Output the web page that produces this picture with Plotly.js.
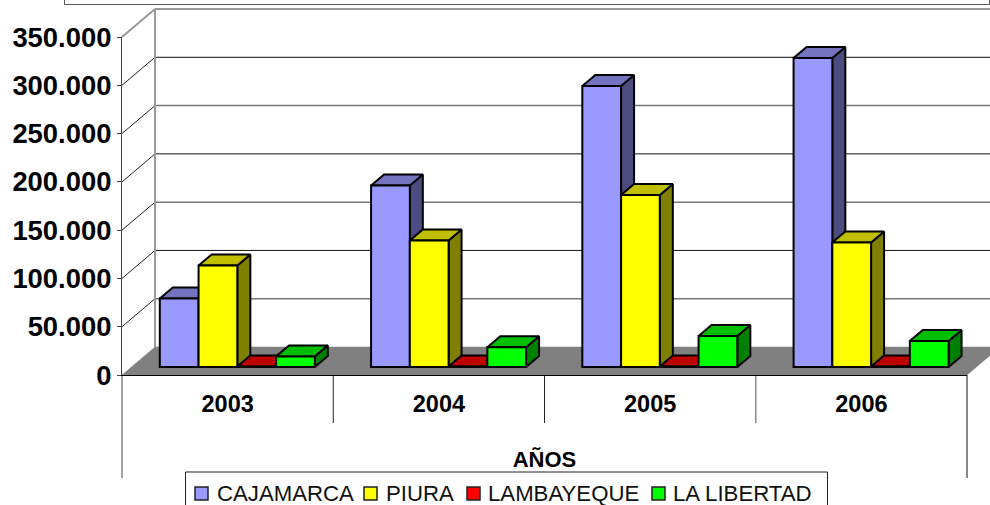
<!DOCTYPE html>
<html>
<head>
<meta charset="utf-8">
<script src="https://cdn.plot.ly/plotly-3.0.1.min.js"></script>
<style>html,body{margin:0;padding:0;background:#fff;overflow:hidden}#chart{width:990px;height:505px}</style>
</head>
<body>
<div id="chart"></div>
<script>
// ---- data ----
const years = ['2003', '2004', '2005', '2006'];
const seriesNames = ['CAJAMARCA', 'PIURA', 'LAMBAYEQUE', 'LA LIBERTAD'];
const cajamarca = [71000, 188000, 291000, 320000];
const piura = [105000, 131000, 178000, 129000];
const lambayeque = [600, 600, 600, 600];
const laLibertad = [11000, 20500, 32000, 27000];
const seriesValues = [cajamarca, piura, lambayeque, laLibertad];
const frontColors = ['#9999FF', '#FFFF00', '#FF0000', '#00FF00'];
const topColors = ['#7373BF', '#BFBF00', '#BF0000', '#00BF00'];
const sideColors = ['#4C4C80', '#808000', '#800000', '#008000'];
const yTicks = [0, 50000, 100000, 150000, 200000, 250000, 300000, 350000];

// ---- canvas and scale: axis frame spans x 122..967, y 37..375 px ----
const W = 990, H = 505, AX_L = 122, AX_R = 967, AX_T = 37, AX_B = 375;
const PX_CAT = (AX_R - AX_L) / years.length, PX_VAL = (AX_B - AX_T) / 350000;
const catUnits = function (p) { return p / PX_CAT; };
const valUnits = function (p) { return p / PX_VAL; };

// ---- pseudo-3D projection (fake depth, in axis units) ----
const WALL_DX = catUnits(33), WALL_DY = valUnits(28);
const BAR_X0 = catUnits(9.7), BAR_Y0 = valUnits(8);
const BAR_DX = catUnits(13), BAR_DY = valUnits(11);
const BAR_W = catUnits(38.75);
const NC = years.length, NS = seriesNames.length;
const SEP_SHORT = -valUnits(48), SEP_LONG = -valUnits(103);

const traces = [];
function lineTrace(xs, ys, color, width) {
  traces.push({type: 'scatter', mode: 'lines', x: xs, y: ys, hoverinfo: 'skip',
    showlegend: false, line: {color: color, width: width}});
}
function polyTrace(xs, ys, fill, outline, width) {
  traces.push({type: 'scatter', mode: 'lines', x: xs, y: ys, hoverinfo: 'skip',
    showlegend: false, fill: 'toself', fillcolor: fill, line: {color: outline, width: width}});
}

// floor
polyTrace([0, WALL_DX, NC + WALL_DX, NC, 0], [0, WALL_DY, WALL_DY, 0, 0], '#808080', '#808080', 0.5);

// back wall: gridlines alternate grey/black as in the reference
yTicks.forEach(function (v, i) {
  if (i === 0) return;
  const isTop = i === yTicks.length - 1;
  lineTrace([0, WALL_DX], [v, v + WALL_DY], isTop ? '#999999' : '#222222', isTop ? 2 : 1);
  lineTrace([WALL_DX, NC + WALL_DX + 1], [v + WALL_DY, v + WALL_DY],
            isTop ? '#999999' : (i % 2 === 1 ? '#777777' : '#111111'),
            isTop ? 2 : (i % 2 === 1 ? 1.5 : 1));
});
// wall corner
lineTrace([WALL_DX, WALL_DX], [WALL_DY, 350000 + WALL_DY], '#999999', 2);
// category separators below the floor
lineTrace([0, 0], [0, SEP_LONG], '#666666', 1.2);
lineTrace([1, 1], [0, SEP_SHORT], '#222222', 1);
lineTrace([2, 2], [0, SEP_SHORT], '#222222', 1);
lineTrace([3, 3], [0, SEP_SHORT], '#888888', 1.5);
lineTrace([4, 4], [0, SEP_LONG], '#111111', 1);

function barLeft(c, s) { return c + 0.5 + BAR_X0 + (s - NS / 2) * BAR_W; }

// side and top faces, painted left to right
seriesValues.forEach(function (vals, s) {
  const sx = [], sy = [], tx = [], ty = [];
  vals.forEach(function (v, c) {
    const l = barLeft(c, s), r = l + BAR_W, b = BAR_Y0, t = BAR_Y0 + v;
    sx.push(r, r + BAR_DX, r + BAR_DX, r, r, null);
    sy.push(b, b + BAR_DY, t + BAR_DY, t, b, null);
    tx.push(l, r, r + BAR_DX, l + BAR_DX, l, null);
    ty.push(t, t, t + BAR_DY, t + BAR_DY, t, null);
  });
  polyTrace(sx, sy, sideColors[s], '#000000', 2);
  polyTrace(tx, ty, topColors[s], '#000000', 2);
});

// front faces: real bars on the visible subplot, which sits above the faces
seriesValues.forEach(function (vals, s) {
  traces.push({
    type: 'bar', name: seriesNames[s], xaxis: 'x2', yaxis: 'y2',
    x: years.map(function (_, c) { return barLeft(c, s); }),
    y: vals,
    base: vals.map(function () { return BAR_Y0; }),
    width: BAR_W, offset: 0, cliponaxis: false,
    marker: {color: frontColors[s], line: {color: '#000000', width: 2}},
    showlegend: false, hoverinfo: 'x+y'
  });
});

// ---- legend, laid out by hand to match the tight spacing of the reference ----
const px = function (x) { return x / W; };
const py = function (y) { return 1 - y / H; };
const legendSwatchX = [195, 364, 467, 652];
const legendTextX = [217, 386, 488, 673];
const shapes = [
  {type: 'rect', xref: 'paper', yref: 'paper', x0: px(64.5), x1: px(989.5), y0: py(4.5), y1: py(-20), line: {color: '#555555', width: 1}},
  {type: 'rect', xref: 'paper', yref: 'paper', x0: px(185.5), x1: px(827.5), y0: py(472), y1: py(530), line: {color: '#222222', width: 1}}
];
const annotations = [];
seriesNames.forEach(function (n, s) {
  shapes.push({type: 'rect', xref: 'paper', yref: 'paper',
    x0: px(legendSwatchX[s]), x1: px(legendSwatchX[s] + 13), y0: py(487), y1: py(500),
    fillcolor: frontColors[s], line: {color: '#222222', width: 1.5}});
  annotations.push({xref: 'paper', yref: 'paper', x: px(legendTextX[s]), y: py(493), xanchor: 'left', yanchor: 'middle',
    text: n, showarrow: false, xshift: -2, font: {family: '"Liberation Sans", Arial, sans-serif', size: 22.2, color: '#111111'}});
});

const boldFont = function (size) { return {family: '"Liberation Sans", Arial, sans-serif', size: size, color: '#000000', weight: 700}; };
const layout = {
  width: W, height: H,
  margin: {l: 0, r: 0, t: 0, b: 0, pad: 0},
  paper_bgcolor: '#ffffff', plot_bgcolor: 'rgba(0,0,0,0)',
  separators: ',.',
  showlegend: false, barmode: 'overlay',
  // full-canvas hidden frame for the wall, floor and depth faces (same scale as the visible axes)
  xaxis: {domain: [0, 1], range: [catUnits(-AX_L), catUnits(W - AX_L)], visible: false, fixedrange: true},
  yaxis: {domain: [0, 1], range: [valUnits(AX_B - H), valUnits(AX_B)], visible: false, fixedrange: true},
  // visible axes
  xaxis2: {
    domain: [AX_L / W, AX_R / W], anchor: 'y2',
    range: [0, NC], tickmode: 'array',
    tickvals: years.map(function (_, c) { return c + 0.5; }), ticktext: years,
    showgrid: false, zeroline: false, showline: true, linecolor: '#000000', linewidth: 1,
    ticks: 'outside', ticklen: 8, tickcolor: 'rgba(0,0,0,0)', tickfont: boldFont(23.5),
    title: {text: 'AÑOS', font: boldFont(22), standoff: 35}
  },
  yaxis2: {
    domain: [1 - AX_B / H, 1 - AX_T / H], anchor: 'x2',
    range: [0, 350000], tickmode: 'array', tickvals: yTicks, tickformat: ',d',
    showgrid: false, zeroline: false, showline: true, linecolor: '#444444', linewidth: 1.2,
    ticks: 'outside', ticklen: 4, tickcolor: '#444444', tickfont: boldFont(27.4)
  },
  shapes: shapes, annotations: annotations
};
Plotly.newPlot('chart', traces, layout, {displayModeBar: false});
</script>
</body>
</html>
